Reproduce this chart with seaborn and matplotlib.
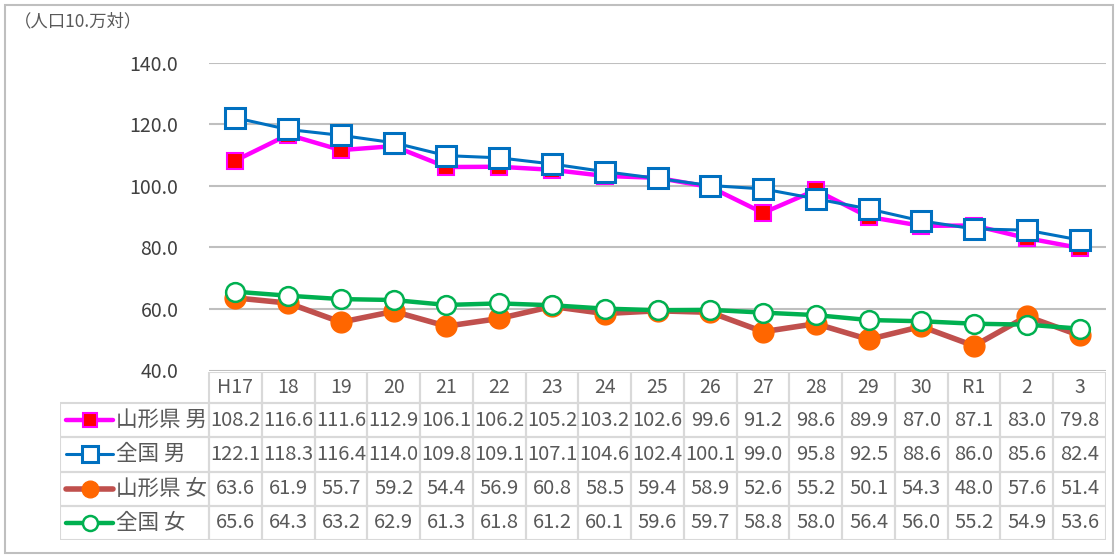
import numpy as np
import pandas as pd
import matplotlib
matplotlib.use("Agg")
import matplotlib.pyplot as plt
from matplotlib.lines import Line2D
from matplotlib.patches import Rectangle
import seaborn as sns

# ---- data ----
years = ["H17", "18", "19", "20", "21", "22", "23", "24", "25", "26", "27", "28", "29", "30", "R1", "2", "3"]
series_names = ["山形県 男", "全国 男", "山形県 女", "全国 女"]
yamagata_m = [108.2, 116.6, 111.6, 112.9, 106.1, 106.2, 105.2, 103.2, 102.6, 99.6, 91.2, 98.6, 89.9, 87.0, 87.1, 83.0, 79.8]
zenkoku_m = [122.1, 118.3, 116.4, 114.0, 109.8, 109.1, 107.1, 104.6, 102.4, 100.1, 99.0, 95.8, 92.5, 88.6, 86.0, 85.6, 82.4]
yamagata_f = [63.6, 61.9, 55.7, 59.2, 54.4, 56.9, 60.8, 58.5, 59.4, 58.9, 52.6, 55.2, 50.1, 54.3, 48.0, 57.6, 51.4]
zenkoku_f = [65.6, 64.3, 63.2, 62.9, 61.3, 61.8, 61.2, 60.1, 59.6, 59.7, 58.8, 58.0, 56.4, 56.0, 55.2, 54.9, 53.6]
y_ticks = [40.0, 60.0, 80.0, 100.0, 120.0, 140.0]
y_title = "（人口10.万対）"

values = [yamagata_m, zenkoku_m, yamagata_f, zenkoku_f]

styles = [
    dict(color="#FF00FF", lw=3.2, marker="s", markersize=12, markerfacecolor="#FF0000",
         markeredgecolor="#FF00FF", markeredgewidth=1.5),
    dict(color="#0070C0", lw=2.2, marker="s", markersize=14, markerfacecolor="white",
         markeredgecolor="#0070C0", markeredgewidth=2.2),
    dict(color="#C0504D", lw=4.0, marker="o", markersize=15, markerfacecolor="#FF6600",
         markeredgecolor="#FF6600", markeredgewidth=1.0),
    dict(color="#00B050", lw=3.2, marker="o", markersize=13.5, markerfacecolor="white",
         markeredgecolor="#00B050", markeredgewidth=1.8),
]

sns.set_theme(style="white")
plt.rcParams["font.family"] = ["Noto Sans CJK JP", "DejaVu Sans"]

W, H = 1116, 557
fig = plt.figure(figsize=(W / 100, H / 100), dpi=100)

def fx(px):
    return px / W

def fy(py):
    return 1 - py / H

# plot axes
left_px, right_px = 209, 1106
top_px, bot_px = 62.7, 370.5
ax = fig.add_axes([fx(left_px), fy(bot_px), fx(right_px - left_px), (bot_px - top_px) / H])

df = pd.DataFrame({"year": years})
for name, vals in zip(series_names, values):
    df[name] = vals

for name, st in zip(series_names, styles):
    sns.lineplot(data=df, x="year", y=name, ax=ax, sort=False, zorder=3, **st)

ax.set_xlim(-0.5, len(years) - 0.5)
ax.set_ylim(min(y_ticks), max(y_ticks))
ax.set_yticks(y_ticks)
ax.set_yticklabels([f"{t:.1f}" for t in y_ticks], fontsize=14, color="#404040")
ax.tick_params(axis="y", length=0, pad=22)
ax.set_xticks([])
ax.set_xlabel("")
ax.set_ylabel("")
ax.grid(axis="y", color="#BFBFBF", lw=1.5)
ax.set_axisbelow(True)
for s in ax.spines.values():
    s.set_visible(False)
ax.patch.set_alpha(0)

fig.text(fx(14), fy(21), y_title, fontsize=12.5, color="#595959", va="center", ha="left")

# table axes (pixel coordinates)
tbl_left, tbl_right = 60, 1106
tbl_top, tbl_bot = 372, 540
tax = fig.add_axes([fx(tbl_left), fy(tbl_bot), fx(tbl_right - tbl_left), (tbl_bot - tbl_top) / H])
tax.set_xlim(tbl_left, tbl_right)
tax.set_ylim(tbl_bot, tbl_top)
tax.axis("off")

header_h = 31
row_h = (tbl_bot - tbl_top - header_h) / len(series_names)
col_w = (right_px - left_px) / len(years)
grid_c = "#D9D9D9"
txt_c = "#595959"

# header row
for i, yr in enumerate(years):
    x0 = left_px + i * col_w
    tax.add_patch(Rectangle((x0, tbl_top), col_w, header_h, fill=False, ec=grid_c, lw=1.5))
    tax.text(x0 + col_w / 2, tbl_top + header_h / 2, yr, ha="center", va="center",
             fontsize=14, color=txt_c)

for r, (name, vals, st) in enumerate(zip(series_names, values, styles)):
    y0 = tbl_top + header_h + r * row_h
    yc = y0 + row_h / 2
    tax.add_patch(Rectangle((tbl_left, y0), left_px - tbl_left, row_h, fill=False, ec=grid_c, lw=1.5))
    # legend glyph
    tax.add_line(Line2D([66, 113], [yc, yc], color=st["color"], lw=st["lw"]))
    tax.add_line(Line2D([89.5], [yc], marker=st["marker"], markersize=st["markersize"] * 0.8,
                        markerfacecolor=st["markerfacecolor"], markeredgecolor=st["markeredgecolor"],
                        markeredgewidth=st["markeredgewidth"], lw=0))
    tax.text(116, yc, name, ha="left", va="center", fontsize=15.5, color=txt_c)
    for i, v in enumerate(vals):
        x0 = left_px + i * col_w
        tax.add_patch(Rectangle((x0, y0), col_w, row_h, fill=False, ec=grid_c, lw=1.5))
        tax.text(x0 + col_w / 2, yc, f"{v:.1f}", ha="center", va="center",
                 fontsize=14.5, color=txt_c)

# outer border
fig.add_artist(Rectangle((fx(5), fy(553)), fx(1108), (548) / H, transform=fig.transFigure,
                         fill=False, ec="#BFBFBF", lw=1.5))

fig.savefig("out.png", dpi=100)
